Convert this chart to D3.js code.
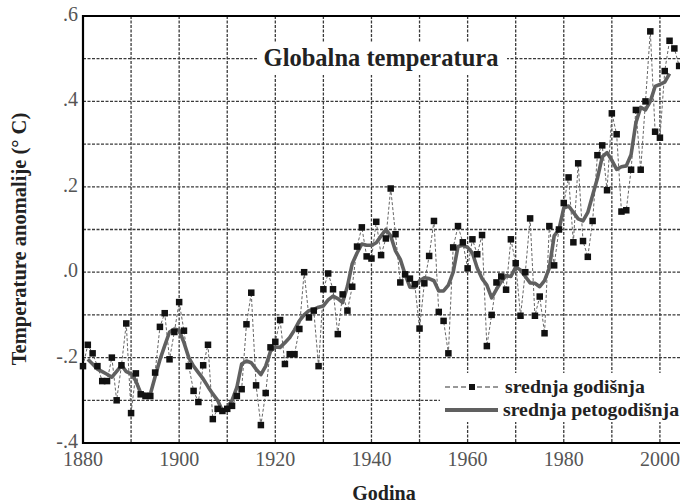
<!DOCTYPE html>
<html>
<head>
<meta charset="utf-8">
<script src="https://cdn.jsdelivr.net/npm/d3@7"></script>
<style>
  body { margin: 0; background: #fff; }
  svg { display: block; }
</style>
</head>
<body>
<svg id="chart" width="680" height="504"></svg>
<script>
// godišnji prosjek, prva godina 1880
var firstYear = 1880;
var annual = [
  -0.22, -0.17, -0.19, -0.22, -0.255, -0.255, -0.20, -0.30, -0.218, -0.12,
  -0.33, -0.237, -0.286, -0.29, -0.29, -0.235, -0.128, -0.096, -0.204, -0.14,
  -0.07, -0.137, -0.22, -0.278, -0.304, -0.218, -0.17, -0.344, -0.32, -0.325,
  -0.32, -0.313, -0.29, -0.274, -0.122, -0.048, -0.265, -0.358, -0.283, -0.176,
  -0.163, -0.112, -0.215, -0.192, -0.192, -0.133, 0.0, -0.106, -0.09, -0.22,
  -0.04, -0.003, -0.04, -0.145, -0.052, -0.09, -0.034, 0.06, 0.105, 0.037,
  0.032, 0.118, 0.04, 0.079, 0.196, 0.089, -0.024, -0.005, -0.015, -0.028,
  -0.132, -0.026, 0.038, 0.12, -0.093, -0.114, -0.19, 0.058, 0.108, 0.07,
  0.009, 0.077, 0.042, 0.087, -0.173, -0.10, -0.024, -0.01, -0.041, 0.077,
  0.021, -0.102, 0.0, 0.126, -0.102, -0.057, -0.143, 0.108, 0.016, 0.10,
  0.162, 0.222, 0.07, 0.255, 0.073, 0.036, 0.12, 0.274, 0.297, 0.192,
  0.372, 0.323, 0.142, 0.145, 0.24, 0.38, 0.24, 0.40, 0.564, 0.329,
  0.315, 0.471, 0.542, 0.524, 0.483
];

// petogodišnji prosjek, od 1881 do 2002
var smoothFirstYear = 1881;
var smooth = [
  -0.204, -0.215, -0.227, -0.233, -0.239, -0.246, -0.232, -0.218, -0.233,
  -0.238, -0.255, -0.283, -0.286, -0.286, -0.245, -0.205, -0.172, -0.14, -0.133,
  -0.136, -0.165, -0.2, -0.22, -0.235, -0.25, -0.268, -0.285, -0.3, -0.325,
  -0.318, -0.3, -0.27, -0.215, -0.208, -0.212, -0.227, -0.24, -0.22, -0.185,
  -0.175, -0.176, -0.165, -0.153, -0.135, -0.114, -0.1, -0.09, -0.087, -0.082,
  -0.079, -0.065, -0.056, -0.062, -0.071, -0.033, 0.02, 0.045, 0.066, 0.063,
  0.063, 0.069, 0.085, 0.1, 0.085, 0.05, 0.03, -0.005, -0.035, -0.036,
  -0.02, -0.013, -0.015, -0.02, -0.044, -0.044, -0.03, 0.0, 0.06, 0.063,
  0.058, 0.045, 0.01, -0.015, -0.03, -0.06, -0.04, -0.022, -0.008, -0.01,
  0.012, 0.005, -0.01, -0.025, -0.026, -0.034, -0.02, 0.01, 0.085, 0.1,
  0.15, 0.155, 0.14, 0.125, 0.12, 0.14, 0.18, 0.22, 0.27, 0.28,
  0.262, 0.241, 0.247, 0.249, 0.275, 0.35, 0.386, 0.38, 0.4, 0.435,
  0.44, 0.445, 0.465
];

var xTickYears = [1880, 1900, 1920, 1940, 1960, 1980, 2000];
var xGridYears = [1890, 1900, 1910, 1920, 1930, 1940, 1950, 1960, 1970, 1980, 1990, 2000];
var yTickValues = [-0.4, -0.2, 0.0, 0.2, 0.4, 0.6];
var yTickLabels = ["-.4", "-.2", ".0", ".2", ".4", ".6"];
var yGridValues = [-0.3, -0.2, -0.1, 0.0, 0.1, 0.2, 0.3, 0.4, 0.5];

var titleText = "Globalna temperatura";
var xLabel = "Godina";
var yLabel = "Temperature anomalije (\u00B0 C)";
var legendLabels = ["srednja godi\u0161nja", "srednja petogodi\u0161nja"];

var svg = d3.select("#chart");
var serif = "'Liberation Serif', Tinos, 'Times New Roman', serif";

var x = d3.scaleLinear().domain([1880, 2010]).range([83, 708]);
var y = d3.scaleLinear().domain([-0.4, 0.6]).range([443, 16]);

var gridColor = "#3a3a3a";

// mreža
var grid = svg.append("g");
grid.selectAll("line.v")
	.data(xGridYears)
	.enter()
	.append("line")
	.attr("x1", d => x(d)).attr("x2", d => x(d))
	.attr("y1", y(0.6)).attr("y2", y(-0.4))
	.style("stroke", gridColor)
	.style("stroke-width", 1.3)
	.style("stroke-dasharray", "3,1.5");
grid.selectAll("line.h")
	.data(yGridValues)
	.enter()
	.append("line")
	.attr("x1", x(1880)).attr("x2", 680)
	.attr("y1", d => y(d)).attr("y2", d => y(d))
	.style("stroke", gridColor)
	.style("stroke-width", 1.3)
	.style("stroke-dasharray", "3,1.5");

// bijela pozadina za naslov i legendu
svg.append("rect")
	.attr("x", 257).attr("y", 42).attr("width", 250).attr("height", 33)
	.style("fill", "#fff");
svg.append("rect")
	.attr("x", 440).attr("y", 373).attr("width", 240).attr("height", 49)
	.style("fill", "#fff");

// osi
svg.append("line")
	.attr("x1", x(1880)).attr("x2", x(1880))
	.attr("y1", y(0.6) - 1).attr("y2", y(-0.4) + 1)
	.style("stroke", "#000").style("stroke-width", 2.2);
svg.append("line")
	.attr("x1", x(1880)).attr("x2", 680)
	.attr("y1", y(0.6)).attr("y2", y(0.6))
	.style("stroke", "#000").style("stroke-width", 2.2);
svg.append("line")
	.attr("x1", x(1880)).attr("x2", 680)
	.attr("y1", y(-0.4)).attr("y2", y(-0.4))
	.style("stroke", "#000").style("stroke-width", 2.2);

// oznake osi
svg.append("g").selectAll("text")
	.data(xTickYears)
	.enter()
	.append("text")
	.attr("x", d => x(d))
	.attr("y", 466)
	.style("text-anchor", "middle")
	.style("font-family", serif)
	.style("font-size", "20px")
	.style("fill", "#555")
	.text(d => d);

svg.append("g").selectAll("text")
	.data(yTickValues)
	.enter()
	.append("text")
	.attr("x", 78)
	.attr("y", d => y(d) + 5)
	.style("text-anchor", "end")
	.style("font-family", serif)
	.style("font-size", "20px")
	.style("fill", "#555")
	.text((d, i) => yTickLabels[i]);

svg.append("text")
	.attr("x", 384).attr("y", 500)
	.style("text-anchor", "middle")
	.style("font-family", serif)
	.style("font-weight", "bold")
	.style("font-size", "20px")
	.style("fill", "#222")
	.text(xLabel);

svg.append("text")
	.attr("transform", "translate(26,239) rotate(-90)")
	.style("text-anchor", "middle")
	.style("font-family", serif)
	.style("font-weight", "bold")
	.style("font-size", "20.5px")
	.style("fill", "#222")
	.text(yLabel);

svg.append("text")
	.attr("x", 381).attr("y", 66)
	.style("text-anchor", "middle")
	.style("font-family", serif)
	.style("font-weight", "bold")
	.style("font-size", "24.5px")
	.style("fill", "#222")
	.text(titleText);

// godišnji niz
var annualLine = d3.line()
	.x((d, i) => x(firstYear + i))
	.y(d => y(d));
svg.append("path")
	.datum(annual)
	.attr("d", annualLine)
	.style("fill", "none")
	.style("stroke", "#666")
	.style("stroke-width", 1)
	.style("stroke-dasharray", "3,2");

// petogodišnji niz
var smoothLine = d3.line()
	.x((d, i) => x(smoothFirstYear + i))
	.y(d => y(d));
svg.append("path")
	.datum(smooth)
	.attr("d", smoothLine)
	.style("fill", "none")
	.style("stroke", "#606060")
	.style("stroke-width", 3.6)
	.style("stroke-linejoin", "round");

var sq = 6.5;
svg.append("g").selectAll("rect")
	.data(annual)
	.enter()
	.append("rect")
	.attr("x", (d, i) => x(firstYear + i) - sq / 2)
	.attr("y", d => y(d) - sq / 2)
	.attr("width", sq)
	.attr("height", sq)
	.style("fill", "#111");

// legenda
const legend = svg.append("g");
legend.append("line")
	.attr("x1", 445).attr("x2", 498).attr("y1", 387).attr("y2", 387)
	.style("stroke", "#333").style("stroke-width", 1.2).style("stroke-dasharray", "5,3");
legend.append("rect")
	.attr("x", 469).attr("y", 384).attr("width", 6).attr("height", 6)
	.style("fill", "#111");
legend.append("line")
	.attr("x1", 445).attr("x2", 498).attr("y1", 410).attr("y2", 410)
	.style("stroke", "#606060").style("stroke-width", 4);
legend.selectAll("text")
	.data(legendLabels)
	.enter()
	.append("text")
	.attr("x", (d, i) => i == 0 ? 505 : 503)
	.attr("y", (d, i) => i == 0 ? 393 : 416)
	.style("font-family", serif)
	.style("font-weight", "bold")
	.style("font-size", "19.8px")
	.style("fill", "#222")
	.text(d => d);
</script>
</body>
</html>
